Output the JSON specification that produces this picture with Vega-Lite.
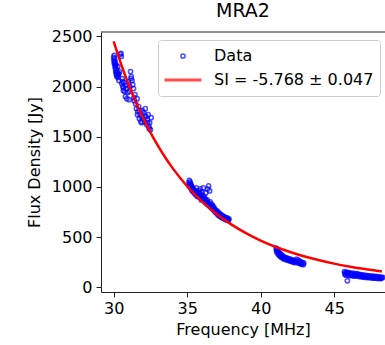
{
  "$schema": "https://vega.github.io/schema/vega-lite/v6.json",
  "width": 284,
  "height": 260,
  "autosize": {"type": "none"},
  "padding": {"left": 101, "top": 32, "right": 0, "bottom": 53},
  "title": {"text": "MRA2", "fontSize": 19, "fontWeight": "normal", "font": "DejaVu Sans", "color": "#000000", "offset": 7, "anchor": "middle"},
  "config": {
    "font": "DejaVu Sans",
    "view": {"stroke": null},
    "axis": {"grid": false, "domainColor": "#222222", "tickColor": "#222222", "domainWidth": 1, "tickWidth": 1, "tickSize": 5, "labelFontSize": 16, "labelColor": "#000000", "titleFontSize": 16, "titleFontWeight": "normal", "titleColor": "#000000", "labelFlush": false, "labelOverlap": false},
    "legend": {"orient": "none", "legendX": 57, "legendY": 8, "labelFontSize": 16, "labelColor": "#000000", "clipHeight": 20, "padding": 6, "rowPadding": 4, "fillColor": "#ffffff", "strokeColor": "#cccccc", "cornerRadius": 3, "labelOffset": 11, "symbolOffset": -1, "labelLimit": 400}
  },
  "layer": [
    {
      "data": {"values": [
        {"f":30.00,"s":2290},{"f":30.02,"s":2260},{"f":30.04,"s":2310},{"f":30.05,"s":2230},{"f":30.07,"s":2280},{"f":30.09,"s":2200},{"f":30.10,"s":2250},{"f":30.12,"s":2180},{"f":30.14,"s":2150},{"f":30.16,"s":2220},{"f":30.18,"s":2120},{"f":30.20,"s":2170},{"f":30.22,"s":2100},{"f":30.25,"s":2140},{"f":30.28,"s":2200},{"f":30.30,"s":2090},{"f":30.33,"s":2120},{"f":30.36,"s":2060},{"f":30.40,"s":2150},{"f":30.45,"s":2320},{"f":30.50,"s":2330},{"f":30.52,"s":2300},{"f":30.55,"s":2030},{"f":30.58,"s":2080},{"f":30.62,"s":2000},{"f":30.66,"s":1960},{"f":30.70,"s":2040},{"f":30.75,"s":1950},{"f":30.80,"s":1900},{"f":30.85,"s":1980},{"f":30.90,"s":1880},{"f":30.95,"s":1940},{"f":31.00,"s":2050},{"f":31.05,"s":1870},{"f":31.10,"s":2000},{"f":31.15,"s":2150},{"f":31.20,"s":2100},{"f":31.25,"s":2060},{"f":31.30,"s":2020},{"f":31.35,"s":1980},{"f":31.40,"s":1860},{"f":31.45,"s":1920},{"f":31.50,"s":1830},{"f":31.55,"s":1780},{"f":31.60,"s":1880},{"f":31.65,"s":1750},{"f":31.70,"s":1800},{"f":31.75,"s":1680},{"f":31.80,"s":1720},{"f":31.85,"s":1650},{"f":31.90,"s":1700},{"f":31.95,"s":1760},{"f":32.00,"s":1680},{"f":32.05,"s":1740},{"f":32.10,"s":1650},{"f":32.15,"s":1780},{"f":32.20,"s":1700},{"f":32.25,"s":1620},{"f":32.30,"s":1670},{"f":32.35,"s":1720},{"f":32.40,"s":1600},{"f":32.45,"s":1640},{"f":32.50,"s":1570},{"f":32.55,"s":1690},
        {"f":30.06,"s":2240},{"f":30.13,"s":2210},{"f":30.19,"s":2140},{"f":30.26,"s":2110},{"f":30.35,"s":2130},{"f":30.60,"s":2050},{"f":30.68,"s":1990},{"f":30.78,"s":2010},{"f":31.08,"s":1950},{"f":31.18,"s":2080},{"f":31.38,"s":1890},{"f":31.62,"s":1720},{"f":31.78,"s":1760},{"f":31.92,"s":1640},{"f":32.12,"s":1710},{"f":32.32,"s":1640},{"f":32.42,"s":1580},
        {"f":35.12,"s":1040},{"f":35.15,"s":1065},{"f":35.18,"s":1020},{"f":35.20,"s":1050},{"f":35.22,"s":995},{"f":35.25,"s":1030},{"f":35.28,"s":1010},{"f":35.30,"s":975},{"f":35.33,"s":1000},{"f":35.36,"s":960},{"f":35.40,"s":985},{"f":35.43,"s":950},{"f":35.46,"s":970},{"f":35.50,"s":940},{"f":35.53,"s":965},{"f":35.56,"s":925},{"f":35.60,"s":950},{"f":35.63,"s":990},{"f":35.66,"s":930},{"f":35.70,"s":905},{"f":35.73,"s":945},{"f":35.76,"s":920},{"f":35.80,"s":960},{"f":35.83,"s":900},{"f":35.86,"s":940},{"f":35.90,"s":980},{"f":35.93,"s":910},{"f":35.96,"s":870},{"f":36.00,"s":950},{"f":36.03,"s":890},{"f":36.06,"s":920},{"f":36.10,"s":990},{"f":36.13,"s":870},{"f":36.16,"s":900},{"f":36.20,"s":850},{"f":36.23,"s":880},{"f":36.26,"s":940},{"f":36.30,"s":860},{"f":36.33,"s":830},{"f":36.36,"s":870},{"f":36.40,"s":980},{"f":36.43,"s":840},{"f":36.46,"s":1010},{"f":36.50,"s":820},{"f":36.53,"s":960},{"f":36.56,"s":850},{"f":36.60,"s":800},{"f":36.63,"s":830},{"f":36.66,"s":790},{"f":36.70,"s":820},{"f":36.73,"s":780},{"f":36.76,"s":810},{"f":36.80,"s":770},{"f":36.85,"s":790},{"f":36.90,"s":750},{"f":36.95,"s":770},{"f":37.00,"s":740},{"f":37.05,"s":760},{"f":37.10,"s":720},{"f":37.15,"s":745},{"f":37.20,"s":710},{"f":37.25,"s":730},{"f":37.30,"s":700},{"f":37.35,"s":720},{"f":37.40,"s":690},{"f":37.45,"s":710},{"f":37.50,"s":685},{"f":37.55,"s":700},{"f":37.60,"s":675},{"f":37.65,"s":695},{"f":37.70,"s":670},{"f":37.75,"s":690},{"f":37.80,"s":665},{"f":37.85,"s":680},
        {"f":35.14,"s":1010},{"f":35.24,"s":1015},{"f":35.38,"s":970},{"f":35.48,"s":955},{"f":35.58,"s":940},{"f":35.68,"s":915},{"f":35.78,"s":905},{"f":35.88,"s":895},{"f":36.08,"s":880},{"f":36.18,"s":865},{"f":36.28,"s":845},{"f":36.38,"s":835},{"f":36.48,"s":815},{"f":36.58,"s":810},{"f":36.68,"s":800},{"f":36.78,"s":785},{"f":36.88,"s":770},{"f":36.98,"s":755},{"f":37.08,"s":735},{"f":37.18,"s":725},{"f":37.28,"s":715},{"f":37.38,"s":705},{"f":37.48,"s":695},{"f":37.58,"s":688},{"f":37.68,"s":680},{"f":37.78,"s":675},
        {"f":41.05,"s":390},{"f":41.08,"s":360},{"f":41.10,"s":375},{"f":41.13,"s":345},{"f":41.16,"s":365},{"f":41.20,"s":330},{"f":41.23,"s":350},{"f":41.26,"s":320},{"f":41.30,"s":340},{"f":41.33,"s":310},{"f":41.36,"s":330},{"f":41.40,"s":300},{"f":41.44,"s":320},{"f":41.48,"s":295},{"f":41.52,"s":310},{"f":41.56,"s":285},{"f":41.60,"s":300},{"f":41.65,"s":280},{"f":41.70,"s":295},{"f":41.75,"s":275},{"f":41.80,"s":290},{"f":41.85,"s":270},{"f":41.90,"s":285},{"f":41.95,"s":265},{"f":42.00,"s":280},{"f":42.05,"s":260},{"f":42.10,"s":275},{"f":42.15,"s":255},{"f":42.20,"s":270},{"f":42.25,"s":250},{"f":42.30,"s":265},{"f":42.35,"s":245},{"f":42.40,"s":260},{"f":42.45,"s":280},{"f":42.50,"s":250},{"f":42.55,"s":270},{"f":42.60,"s":240},{"f":42.65,"s":260},{"f":42.70,"s":235},{"f":42.75,"s":250},{"f":42.80,"s":230},{"f":42.85,"s":245},{"f":42.90,"s":225},{"f":42.93,"s":240},
        {"f":45.70,"s":155},{"f":45.73,"s":130},{"f":45.76,"s":145},{"f":45.80,"s":120},{"f":45.83,"s":150},{"f":45.86,"s":135},{"f":45.90,"s":65},{"f":45.93,"s":140},{"f":45.96,"s":115},{"f":46.00,"s":145},{"f":46.05,"s":125},{"f":46.10,"s":140},{"f":46.15,"s":115},{"f":46.20,"s":135},{"f":46.25,"s":120},{"f":46.30,"s":140},{"f":46.35,"s":110},{"f":46.40,"s":130},{"f":46.45,"s":120},{"f":46.50,"s":135},{"f":46.55,"s":110},{"f":46.60,"s":130},{"f":46.65,"s":115},{"f":46.70,"s":128},{"f":46.75,"s":105},{"f":46.80,"s":125},{"f":46.85,"s":110},{"f":46.90,"s":122},{"f":46.95,"s":100},{"f":47.00,"s":120},{"f":47.05,"s":105},{"f":47.10,"s":118},{"f":47.15,"s":98},{"f":47.20,"s":115},{"f":47.25,"s":102},{"f":47.30,"s":116},{"f":47.35,"s":95},{"f":47.40,"s":112},{"f":47.45,"s":100},{"f":47.50,"s":110},{"f":47.55,"s":92},{"f":47.60,"s":108},{"f":47.65,"s":96},{"f":47.70,"s":110},{"f":47.75,"s":90},{"f":47.80,"s":105},{"f":47.85,"s":92},{"f":47.90,"s":108},{"f":47.95,"s":88},{"f":48.00,"s":100},{"f":48.05,"s":90},{"f":48.10,"s":104},{"f":48.15,"s":86},{"f":48.20,"s":98},{"f":48.25,"s":92},{"f":48.30,"s":100}
      ]},
      "mark": {"type": "point", "filled": false, "clip": true},
      "encoding": {
        "x": {"field": "f", "type": "quantitative", "scale": {"domain": [29.14, 48.46], "nice": false, "zero": false}, "axis": {"values": [30, 35, 40, 45], "title": "Frequency [MHz]", "labelPadding": 3, "titlePadding": 5}},
        "y": {"field": "s", "type": "quantitative", "scale": {"domain": [-47, 2544], "nice": false, "zero": false}, "axis": {"values": [0, 500, 1000, 1500, 2000, 2500], "format": "d", "title": "Flux Density [Jy]", "labelPadding": 4, "titlePadding": 9}},
        "color": {"datum": "Data", "type": "nominal", "scale": {"domain": ["Data", "SI = -5.768 ± 0.047"], "range": ["#0000ff", "#ff0000"]}, "legend": {"title": null}},
        "shape": {"datum": "Data", "type": "nominal", "scale": {"domain": ["Data", "SI = -5.768 ± 0.047"], "range": ["circle", "stroke"]}, "legend": {"title": null}},
        "size": {"datum": "Data", "type": "nominal", "scale": {"type": "ordinal", "domain": ["Data", "SI = -5.768 ± 0.047"], "range": [18, 1369]}, "legend": {"title": null}},
        "strokeWidth": {"datum": "Data", "type": "nominal", "scale": {"type": "ordinal", "domain": ["Data", "SI = -5.768 ± 0.047"], "range": [1.5, 2.8]}, "legend": {"title": null}}
      }
    },
    {
      "data": {"values": [
        {"f":30.0,"s":2450},{"f":30.5,"s":2227},{"f":31.0,"s":2028},{"f":31.5,"s":1849},{"f":32.0,"s":1689},{"f":32.5,"s":1544},{"f":33.0,"s":1414},{"f":33.5,"s":1296},{"f":34.0,"s":1190},{"f":35.0,"s":1007},{"f":36.0,"s":856},{"f":37.0,"s":731},{"f":38.0,"s":627},{"f":39.0,"s":540},{"f":40.0,"s":466},{"f":41.0,"s":404},{"f":42.0,"s":352},{"f":43.0,"s":307},{"f":44.0,"s":269},{"f":45.0,"s":236},{"f":46.0,"s":208},{"f":47.0,"s":184},{"f":48.0,"s":163},{"f":48.25,"s":158}
      ]},
      "mark": {"type": "line", "strokeWidth": 2.5, "interpolate": "monotone", "clip": true},
      "encoding": {
        "x": {"field": "f", "type": "quantitative"},
        "y": {"field": "s", "type": "quantitative"},
        "color": {"datum": "SI = -5.768 ± 0.047", "type": "nominal", "legend": {"title": null}}
      }
    },
    {
      "data": {"values": [{}]},
      "mark": {"type": "rule", "color": "#222222", "strokeWidth": 1},
      "encoding": {"y": {"datum": 2544}}
    }
  ]
}
